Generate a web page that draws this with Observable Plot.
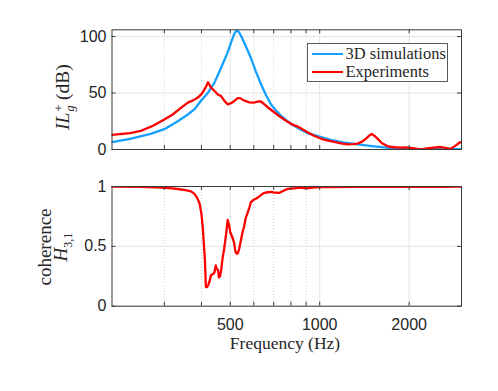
<!DOCTYPE html>
<html>
<head>
<meta charset="utf-8">
<script src="https://cdn.jsdelivr.net/npm/d3@7"></script>
<script src="https://cdn.jsdelivr.net/npm/@observablehq/plot@0.6"></script>
<style>
  html, body { margin: 0; padding: 0; background: #fff; }
  #wrap { position: relative; width: 498px; height: 391px; overflow: hidden; background: #fff; }
  .abs { position: absolute; }
  .serif { font-family: "Liberation Serif", "Times New Roman", serif; color: #262626; }
  .rot { transform: translate(-50%, -50%) rotate(-90deg); white-space: nowrap; }
  .ss { display: inline-flex; flex-direction: column; font-size: 12px; line-height: 11px; vertical-align: middle; margin-left: 1px; text-align: left; }
  #legend { left: 306.5px; top: 43px; width: 141px; height: 39px; border: 1px solid #5a5a5a; background: #fff; box-sizing: border-box; }
  .lgrow { position: absolute; left: 0; height: 18px; display: flex; align-items: center; font-size: 16.5px; }
  .sw { display: inline-block; width: 31px; height: 2.4px; margin-left: 4px; margin-right: 3px; }
</style>
</head>
<body>
<div id="wrap"></div>
<script>
// ---- data ----
const freqSim = [200, 230, 270, 300, 333, 360, 380, 398, 420, 442, 465, 490, 505, 515, 525, 535, 545, 565, 587, 610, 634, 660, 685, 710, 740, 780, 820, 870, 920, 1013, 1100, 1200, 1340, 1500, 1650, 1830, 2000, 2300, 2600, 3000];
const ilSim   = [6.5, 9.5, 13.8, 18, 25, 31, 36, 43, 50, 59, 72, 86, 96, 102, 105.6, 104, 100, 91, 81, 69, 58, 48, 40, 35, 30, 25, 21, 17, 14, 10.9, 8.2, 6.3, 4.6, 3, 1.8, 0.9, 0.5, 0.3, 0.2, 0.2];

const freqExp = [200, 230, 250, 275, 300, 320, 342, 360, 375, 389, 400, 409, 415, 421, 430, 442, 455, 465, 478, 490, 503, 516, 530, 540, 555, 580, 600, 620, 634, 652, 675, 703, 740, 780, 810, 843, 880, 910, 960, 1013, 1060, 1118, 1180, 1240, 1300, 1340, 1390, 1430, 1470, 1496, 1530, 1568, 1620, 1695, 1780, 1880, 1950, 2050, 2190, 2300, 2450, 2550, 2650, 2750, 2850, 2950, 3000];
const ilExp   = [13, 14.5, 16.5, 21, 26.5, 31, 37, 41.5, 43.5, 46, 49, 53, 56, 59.5, 55, 52, 48.5, 47.5, 43, 40, 41, 43, 45.5, 45.5, 43.5, 41.7, 41.5, 42.5, 42.5, 40, 36.5, 33, 28.5, 24.5, 22, 20.3, 17.5, 15.3, 12, 9.5, 8, 6.8, 5.5, 4.6, 4.7, 5.2, 7, 9.5, 12.5, 13.8, 12, 9.4, 5.5, 2.8, 2, 1.6, 1.8, 1.2, 0.2, 1, 1.8, 2.2, 1.5, 0.5, 3, 6, 6.5];

const freqCoh = [200, 250, 293, 320, 342, 360, 369, 378, 386, 394, 400, 404, 408, 411, 414, 418, 422, 425, 431, 438, 442, 447, 451, 455, 458, 462, 466, 471, 477, 483, 490, 495, 500, 509, 515, 520, 525, 530, 536, 543, 550, 556, 564, 572, 579, 587, 600, 612, 628, 643, 660, 685, 700, 730, 755, 780, 820, 860, 900, 950, 1000, 1100, 1300, 1500, 1700, 2000, 2300, 2600, 2900, 3000];
const coh     = [1.0, 0.998, 0.99, 0.985, 0.975, 0.965, 0.96, 0.94, 0.91, 0.86, 0.77, 0.66, 0.5, 0.38, 0.16, 0.16, 0.18, 0.2, 0.26, 0.27, 0.28, 0.34, 0.31, 0.3, 0.24, 0.25, 0.3, 0.4, 0.48, 0.58, 0.72, 0.68, 0.62, 0.57, 0.53, 0.46, 0.44, 0.44, 0.48, 0.55, 0.62, 0.66, 0.74, 0.78, 0.82, 0.87, 0.89, 0.9, 0.92, 0.94, 0.95, 0.955, 0.95, 0.946, 0.965, 0.98, 0.985, 0.99, 0.985, 0.99, 0.995, 0.995, 0.998, 0.998, 1.0, 0.997, 0.998, 0.997, 1.0, 0.998];

const xMajor = [500, 1000, 2000];
const xMinor = [300, 400, 600, 700, 800, 900];
const yTicksTop = [0, 50, 100];
const yTicksBottom = [0, 0.5, 1];
const seriesNames = ["3D simulations", "Experiments"];
const xLabel = "Frequency (Hz)";

// ---- styling ----
const BLUE = "#14a0ff", RED = "#ff0000";
const W = 498, ML = 111.5, MR = 37;
const FW = W - ML - MR;
const GRID = "#e4e4e4", MINOR = "#cfcfcf", AX = "#3a3a3a";
const baseStyle = {fontFamily: "'Liberation Sans', Arial, Helvetica, sans-serif", fontSize: "16px", color: "#262626", background: "transparent", overflow: "visible"};

const simData = freqSim.map((f, i) => ({f, v: ilSim[i]}));
const expData = freqExp.map((f, i) => ({f, v: ilExp[i]}));
const cohData = freqCoh.map((f, i) => ({f, v: coh[i]}));

function frameTicks(yTicks, FH) {
  const allX = xMajor.concat(xMinor);
  return [
    Plot.tickX(allX, {x: d => d, insetTop: FH - 4, stroke: AX}),
    Plot.tickX(allX, {x: d => d, insetBottom: FH - 4, stroke: AX}),
    Plot.tickY(yTicks, {y: d => d, insetRight: FW - 4, stroke: AX}),
    Plot.tickY(yTicks, {y: d => d, insetLeft: FW - 4, stroke: AX})
  ];
}

// ---- top plot ----
const topMT = 29.3, topMB = 11, topH = 160;
const topFH = topH - topMT - topMB;
const chartTop = Plot.plot({
  width: W, height: topH,
  marginLeft: ML, marginRight: MR, marginTop: topMT, marginBottom: topMB,
  style: baseStyle,
  x: {type: "log", domain: [200, 3000], axis: null},
  y: {domain: [0, 106], ticks: yTicksTop, tickSize: 0, tickPadding: 5.5, label: null},
  marks: [
    Plot.ruleX(xMinor, {stroke: MINOR, strokeDasharray: "1,2"}),
    Plot.ruleX(xMajor, {stroke: GRID}),
    Plot.ruleY(yTicksTop, {stroke: GRID}),
    Plot.line(simData, {x: "f", y: "v", stroke: BLUE, strokeWidth: 2.3, clip: true}),
    Plot.line(expData, {x: "f", y: "v", stroke: RED, strokeWidth: 2.3, clip: true}),
    ...frameTicks(yTicksTop, topFH),
    Plot.frame({stroke: AX})
  ]
});

// ---- bottom plot ----
const botMT = 26, botMB = 85.3, botH = 231;
const botFH = botH - botMT - botMB;
const chartBottom = Plot.plot({
  width: W, height: botH,
  marginLeft: ML, marginRight: MR, marginTop: botMT, marginBottom: botMB,
  style: baseStyle,
  x: {type: "log", domain: [200, 3000], ticks: xMajor, tickFormat: d => String(d), tickSize: 0, tickPadding: 12, label: null},
  y: {domain: [0, 1], ticks: yTicksBottom, tickFormat: d => String(d), tickSize: 0, tickPadding: 5.5, label: null},
  marks: [
    Plot.ruleX(xMinor, {stroke: MINOR, strokeDasharray: "1,2"}),
    Plot.ruleX(xMajor, {stroke: GRID}),
    Plot.ruleY(yTicksBottom, {stroke: GRID}),
    Plot.line(cohData, {x: "f", y: "v", stroke: RED, strokeWidth: 2.3, clip: true}),
    ...frameTicks(yTicksBottom, botFH),
    Plot.frame({stroke: AX})
  ]
});

const wrap = document.getElementById("wrap");
chartTop.style.position = "absolute"; chartTop.style.left = "0px"; chartTop.style.top = "0px";
chartBottom.style.position = "absolute"; chartBottom.style.left = "0px"; chartBottom.style.top = "160px";
wrap.appendChild(chartTop);
wrap.appendChild(chartBottom);

// ---- labels ----
function addDiv(html, cls, css) {
  const d = document.createElement("div");
  d.className = cls;
  d.innerHTML = html;
  Object.assign(d.style, css);
  wrap.appendChild(d);
  return d;
}
addDiv('<i>IL</i><span class="ss"><span>+</span><span><i>g</i></span></span>&nbsp;(dB)', "abs serif rot", {left: "64px", top: "97px", fontSize: "19.5px"});
addDiv('<div style="line-height:15px">coherence</div><div style="line-height:17px"><i>H</i><sub style="font-size:12px">3,1</sub></div>', "abs serif rot", {left: "57px", top: "247px", fontSize: "19px", textAlign: "center"});
addDiv(xLabel, "abs serif", {left: "285px", top: "343px", fontSize: "17.5px", transform: "translate(-50%,-50%)", whiteSpace: "nowrap"});

// ---- legend ----
const lg = addDiv("", "abs serif", {});
lg.id = "legend";
[BLUE, RED].forEach((c, i) => {
  const row = document.createElement("div");
  row.className = "lgrow";
  row.style.top = (i === 0 ? 1 : 19) + "px";
  row.innerHTML = `<span class="sw" style="background:${c}"></span><span>${seriesNames[i]}</span>`;
  lg.appendChild(row);
});
</script>
</body>
</html>
